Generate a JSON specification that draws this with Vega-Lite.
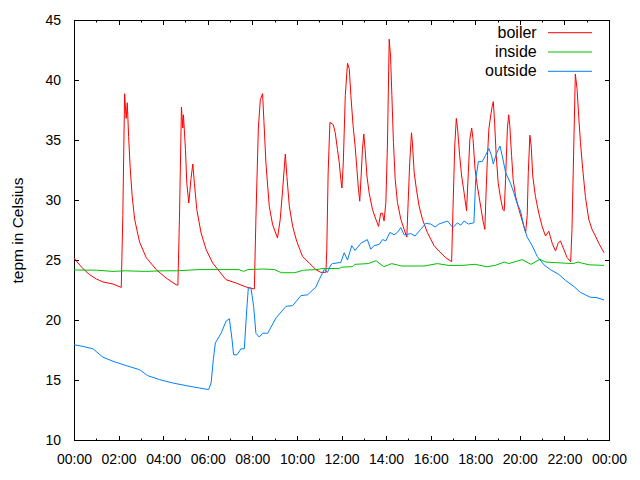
{
  "$schema": "https://vega.github.io/schema/vega-lite/v6.json",
  "width": 535,
  "height": 420,
  "autosize": {"type": "none"},
  "padding": {"left": 74, "top": 20, "right": 31, "bottom": 40},
  "config": {
    "font": "Liberation Sans",
    "view": {"stroke": "black", "strokeWidth": 1},
    "axis": {"domainColor": "black", "tickColor": "black", "labelColor": "black", "titleColor": "black", "labelFontSize": 14, "titleFontSize": 15.5, "titleFontWeight": "normal", "grid": false, "labelFont": "Liberation Sans", "titleFont": "Liberation Sans"},
    "legend": {"labelFont": "Liberation Sans", "labelColor": "black", "labelFontSize": 16}
  },
  "data": {"values": [
    {"t":0,"v":25.17,"s":"boiler"},{"t":0.18,"v":24.75,"s":"boiler"},{"t":0.4,"v":24.28,"s":"boiler"},{"t":0.7,"v":23.78,"s":"boiler"},{"t":1.0,"v":23.42,"s":"boiler"},{"t":1.3,"v":23.17,"s":"boiler"},{"t":1.75,"v":23.0,"s":"boiler"},{"t":2.12,"v":22.72,"s":"boiler"},{"t":2.19,"v":28.7,"s":"boiler"},{"t":2.27,"v":38.86,"s":"boiler"},{"t":2.34,"v":36.8,"s":"boiler"},{"t":2.39,"v":38.1,"s":"boiler"},{"t":2.45,"v":35.3,"s":"boiler"},{"t":2.52,"v":32.7,"s":"boiler"},{"t":2.61,"v":30.3,"s":"boiler"},{"t":2.72,"v":28.4,"s":"boiler"},{"t":2.94,"v":26.5,"s":"boiler"},{"t":3.24,"v":25.2,"s":"boiler"},{"t":3.69,"v":24.2,"s":"boiler"},{"t":4.13,"v":23.5,"s":"boiler"},{"t":4.58,"v":22.94,"s":"boiler"},{"t":4.66,"v":22.9,"s":"boiler"},{"t":4.73,"v":28.4,"s":"boiler"},{"t":4.82,"v":37.75,"s":"boiler"},{"t":4.88,"v":36.0,"s":"boiler"},{"t":4.91,"v":37.1,"s":"boiler"},{"t":5.0,"v":34.2,"s":"boiler"},{"t":5.06,"v":31.4,"s":"boiler"},{"t":5.15,"v":29.75,"s":"boiler"},{"t":5.25,"v":31.8,"s":"boiler"},{"t":5.33,"v":33.0,"s":"boiler"},{"t":5.4,"v":31.4,"s":"boiler"},{"t":5.51,"v":29.2,"s":"boiler"},{"t":5.7,"v":27.25,"s":"boiler"},{"t":5.93,"v":25.86,"s":"boiler"},{"t":6.22,"v":24.75,"s":"boiler"},{"t":6.52,"v":24.05,"s":"boiler"},{"t":6.82,"v":23.36,"s":"boiler"},{"t":7.27,"v":23.08,"s":"boiler"},{"t":7.72,"v":22.75,"s":"boiler"},{"t":8.09,"v":22.58,"s":"boiler"},{"t":8.16,"v":28.4,"s":"boiler"},{"t":8.27,"v":36.0,"s":"boiler"},{"t":8.36,"v":38.36,"s":"boiler"},{"t":8.46,"v":38.86,"s":"boiler"},{"t":8.52,"v":36.56,"s":"boiler"},{"t":8.61,"v":33.08,"s":"boiler"},{"t":8.76,"v":29.47,"s":"boiler"},{"t":8.91,"v":27.94,"s":"boiler"},{"t":9.13,"v":26.83,"s":"boiler"},{"t":9.25,"v":28.36,"s":"boiler"},{"t":9.36,"v":30.86,"s":"boiler"},{"t":9.48,"v":33.83,"s":"boiler"},{"t":9.55,"v":31.97,"s":"boiler"},{"t":9.66,"v":29.47,"s":"boiler"},{"t":9.81,"v":27.8,"s":"boiler"},{"t":9.99,"v":26.56,"s":"boiler"},{"t":10.25,"v":25.3,"s":"boiler"},{"t":10.55,"v":24.75,"s":"boiler"},{"t":10.85,"v":24.2,"s":"boiler"},{"t":11.07,"v":23.97,"s":"boiler"},{"t":11.3,"v":23.97,"s":"boiler"},{"t":11.34,"v":25.86,"s":"boiler"},{"t":11.4,"v":32.25,"s":"boiler"},{"t":11.48,"v":36.47,"s":"boiler"},{"t":11.63,"v":36.28,"s":"boiler"},{"t":11.72,"v":35.6,"s":"boiler"},{"t":11.82,"v":34.2,"s":"boiler"},{"t":11.9,"v":33.1,"s":"boiler"},{"t":11.97,"v":31.7,"s":"boiler"},{"t":12.02,"v":31.0,"s":"boiler"},{"t":12.08,"v":33.1,"s":"boiler"},{"t":12.17,"v":38.7,"s":"boiler"},{"t":12.27,"v":41.4,"s":"boiler"},{"t":12.35,"v":40.9,"s":"boiler"},{"t":12.42,"v":38.7,"s":"boiler"},{"t":12.52,"v":36.2,"s":"boiler"},{"t":12.61,"v":34.5,"s":"boiler"},{"t":12.69,"v":32.6,"s":"boiler"},{"t":12.76,"v":30.9,"s":"boiler"},{"t":12.82,"v":29.9,"s":"boiler"},{"t":12.88,"v":32.0,"s":"boiler"},{"t":12.94,"v":34.2,"s":"boiler"},{"t":13.0,"v":35.5,"s":"boiler"},{"t":13.06,"v":34.2,"s":"boiler"},{"t":13.14,"v":32.0,"s":"boiler"},{"t":13.24,"v":30.6,"s":"boiler"},{"t":13.39,"v":29.2,"s":"boiler"},{"t":13.54,"v":28.4,"s":"boiler"},{"t":13.66,"v":27.8,"s":"boiler"},{"t":13.76,"v":28.9,"s":"boiler"},{"t":13.84,"v":28.9,"s":"boiler"},{"t":13.91,"v":28.25,"s":"boiler"},{"t":13.99,"v":29.8,"s":"boiler"},{"t":14.06,"v":34.5,"s":"boiler"},{"t":14.14,"v":43.4,"s":"boiler"},{"t":14.2,"v":42.0,"s":"boiler"},{"t":14.26,"v":38.7,"s":"boiler"},{"t":14.33,"v":34.8,"s":"boiler"},{"t":14.41,"v":31.7,"s":"boiler"},{"t":14.51,"v":29.8,"s":"boiler"},{"t":14.66,"v":28.4,"s":"boiler"},{"t":14.81,"v":27.55,"s":"boiler"},{"t":14.93,"v":26.9,"s":"boiler"},{"t":14.99,"v":29.8,"s":"boiler"},{"t":15.06,"v":33.1,"s":"boiler"},{"t":15.14,"v":35.6,"s":"boiler"},{"t":15.18,"v":34.8,"s":"boiler"},{"t":15.26,"v":32.3,"s":"boiler"},{"t":15.36,"v":30.9,"s":"boiler"},{"t":15.48,"v":29.5,"s":"boiler"},{"t":15.63,"v":28.4,"s":"boiler"},{"t":15.85,"v":27.3,"s":"boiler"},{"t":16.15,"v":26.2,"s":"boiler"},{"t":16.37,"v":25.75,"s":"boiler"},{"t":16.67,"v":25.2,"s":"boiler"},{"t":16.94,"v":24.86,"s":"boiler"},{"t":17.0,"v":29.2,"s":"boiler"},{"t":17.08,"v":34.5,"s":"boiler"},{"t":17.15,"v":36.8,"s":"boiler"},{"t":17.21,"v":35.9,"s":"boiler"},{"t":17.3,"v":33.7,"s":"boiler"},{"t":17.39,"v":32.0,"s":"boiler"},{"t":17.5,"v":30.6,"s":"boiler"},{"t":17.61,"v":29.1,"s":"boiler"},{"t":17.69,"v":32.3,"s":"boiler"},{"t":17.76,"v":35.1,"s":"boiler"},{"t":17.84,"v":36.0,"s":"boiler"},{"t":17.9,"v":35.1,"s":"boiler"},{"t":17.99,"v":32.6,"s":"boiler"},{"t":18.09,"v":31.2,"s":"boiler"},{"t":18.24,"v":29.5,"s":"boiler"},{"t":18.35,"v":28.25,"s":"boiler"},{"t":18.43,"v":27.55,"s":"boiler"},{"t":18.49,"v":30.9,"s":"boiler"},{"t":18.55,"v":33.7,"s":"boiler"},{"t":18.61,"v":35.9,"s":"boiler"},{"t":18.69,"v":37.0,"s":"boiler"},{"t":18.76,"v":37.8,"s":"boiler"},{"t":18.81,"v":38.2,"s":"boiler"},{"t":18.87,"v":36.4,"s":"boiler"},{"t":18.94,"v":33.7,"s":"boiler"},{"t":19.03,"v":31.4,"s":"boiler"},{"t":19.14,"v":30.1,"s":"boiler"},{"t":19.24,"v":29.2,"s":"boiler"},{"t":19.3,"v":29.1,"s":"boiler"},{"t":19.36,"v":31.7,"s":"boiler"},{"t":19.44,"v":35.9,"s":"boiler"},{"t":19.5,"v":37.1,"s":"boiler"},{"t":19.55,"v":36.2,"s":"boiler"},{"t":19.63,"v":33.7,"s":"boiler"},{"t":19.7,"v":31.7,"s":"boiler"},{"t":19.81,"v":30.3,"s":"boiler"},{"t":19.96,"v":29.2,"s":"boiler"},{"t":20.11,"v":28.25,"s":"boiler"},{"t":20.26,"v":27.3,"s":"boiler"},{"t":20.33,"v":28.7,"s":"boiler"},{"t":20.38,"v":32.3,"s":"boiler"},{"t":20.45,"v":35.4,"s":"boiler"},{"t":20.51,"v":34.5,"s":"boiler"},{"t":20.58,"v":32.0,"s":"boiler"},{"t":20.7,"v":30.3,"s":"boiler"},{"t":20.85,"v":28.9,"s":"boiler"},{"t":21.0,"v":27.8,"s":"boiler"},{"t":21.15,"v":27.0,"s":"boiler"},{"t":21.3,"v":27.4,"s":"boiler"},{"t":21.45,"v":26.4,"s":"boiler"},{"t":21.6,"v":25.75,"s":"boiler"},{"t":21.72,"v":26.4,"s":"boiler"},{"t":21.82,"v":26.6,"s":"boiler"},{"t":21.97,"v":25.9,"s":"boiler"},{"t":22.12,"v":25.2,"s":"boiler"},{"t":22.28,"v":24.86,"s":"boiler"},{"t":22.34,"v":27.55,"s":"boiler"},{"t":22.42,"v":34.5,"s":"boiler"},{"t":22.49,"v":40.5,"s":"boiler"},{"t":22.57,"v":39.2,"s":"boiler"},{"t":22.64,"v":37.0,"s":"boiler"},{"t":22.72,"v":34.8,"s":"boiler"},{"t":22.82,"v":32.6,"s":"boiler"},{"t":22.94,"v":30.3,"s":"boiler"},{"t":23.09,"v":28.4,"s":"boiler"},{"t":23.24,"v":27.55,"s":"boiler"},{"t":23.39,"v":27.0,"s":"boiler"},{"t":23.54,"v":26.4,"s":"boiler"},{"t":23.69,"v":25.9,"s":"boiler"},{"t":23.78,"v":25.6,"s":"boiler"},
    {"t":0,"v":24.17,"s":"inside"},{"t":1.0,"v":24.15,"s":"inside"},{"t":1.75,"v":24.05,"s":"inside"},{"t":2.3,"v":24.1,"s":"inside"},{"t":3.2,"v":24.05,"s":"inside"},{"t":4.0,"v":24.1,"s":"inside"},{"t":4.6,"v":24.1,"s":"inside"},{"t":5.6,"v":24.2,"s":"inside"},{"t":7.4,"v":24.2,"s":"inside"},{"t":7.6,"v":24.05,"s":"inside"},{"t":7.8,"v":24.2,"s":"inside"},{"t":8.5,"v":24.25,"s":"inside"},{"t":9.0,"v":24.2,"s":"inside"},{"t":9.3,"v":23.94,"s":"inside"},{"t":9.9,"v":23.94,"s":"inside"},{"t":10.3,"v":24.15,"s":"inside"},{"t":10.9,"v":24.2,"s":"inside"},{"t":11.1,"v":24.28,"s":"inside"},{"t":11.9,"v":24.3,"s":"inside"},{"t":12.0,"v":24.4,"s":"inside"},{"t":12.5,"v":24.45,"s":"inside"},{"t":12.6,"v":24.64,"s":"inside"},{"t":13.2,"v":24.7,"s":"inside"},{"t":13.55,"v":24.94,"s":"inside"},{"t":13.9,"v":24.44,"s":"inside"},{"t":14.25,"v":24.7,"s":"inside"},{"t":14.7,"v":24.5,"s":"inside"},{"t":15.7,"v":24.5,"s":"inside"},{"t":16.3,"v":24.7,"s":"inside"},{"t":16.8,"v":24.55,"s":"inside"},{"t":17.4,"v":24.55,"s":"inside"},{"t":18.0,"v":24.64,"s":"inside"},{"t":18.5,"v":24.44,"s":"inside"},{"t":18.9,"v":24.55,"s":"inside"},{"t":19.3,"v":24.83,"s":"inside"},{"t":19.5,"v":24.7,"s":"inside"},{"t":20.1,"v":25.03,"s":"inside"},{"t":20.5,"v":24.64,"s":"inside"},{"t":20.9,"v":25.06,"s":"inside"},{"t":21.15,"v":24.83,"s":"inside"},{"t":21.6,"v":24.78,"s":"inside"},{"t":22.4,"v":24.7,"s":"inside"},{"t":22.6,"v":24.83,"s":"inside"},{"t":23.1,"v":24.6,"s":"inside"},{"t":23.78,"v":24.55,"s":"inside"},
    {"t":0,"v":17.94,"s":"outside"},{"t":0.4,"v":17.8,"s":"outside"},{"t":0.85,"v":17.6,"s":"outside"},{"t":1.3,"v":16.9,"s":"outside"},{"t":1.75,"v":16.56,"s":"outside"},{"t":2.34,"v":16.2,"s":"outside"},{"t":2.94,"v":15.86,"s":"outside"},{"t":3.31,"v":15.36,"s":"outside"},{"t":3.84,"v":15.03,"s":"outside"},{"t":4.43,"v":14.75,"s":"outside"},{"t":5.03,"v":14.53,"s":"outside"},{"t":5.63,"v":14.33,"s":"outside"},{"t":6.04,"v":14.2,"s":"outside"},{"t":6.15,"v":14.75,"s":"outside"},{"t":6.25,"v":16.7,"s":"outside"},{"t":6.34,"v":18.08,"s":"outside"},{"t":6.6,"v":18.9,"s":"outside"},{"t":6.82,"v":19.9,"s":"outside"},{"t":6.97,"v":20.1,"s":"outside"},{"t":7.09,"v":18.36,"s":"outside"},{"t":7.16,"v":17.1,"s":"outside"},{"t":7.31,"v":17.1,"s":"outside"},{"t":7.49,"v":17.6,"s":"outside"},{"t":7.64,"v":17.6,"s":"outside"},{"t":7.75,"v":20.86,"s":"outside"},{"t":7.82,"v":22.67,"s":"outside"},{"t":7.94,"v":22.67,"s":"outside"},{"t":8.06,"v":21.1,"s":"outside"},{"t":8.16,"v":18.9,"s":"outside"},{"t":8.31,"v":18.58,"s":"outside"},{"t":8.46,"v":18.9,"s":"outside"},{"t":8.69,"v":18.9,"s":"outside"},{"t":9.06,"v":20.17,"s":"outside"},{"t":9.51,"v":21.14,"s":"outside"},{"t":9.81,"v":21.2,"s":"outside"},{"t":10.18,"v":22.03,"s":"outside"},{"t":10.48,"v":22.1,"s":"outside"},{"t":10.85,"v":22.75,"s":"outside"},{"t":11.0,"v":23.36,"s":"outside"},{"t":11.22,"v":24.2,"s":"outside"},{"t":11.37,"v":23.97,"s":"outside"},{"t":11.52,"v":24.6,"s":"outside"},{"t":11.6,"v":24.7,"s":"outside"},{"t":11.97,"v":24.8,"s":"outside"},{"t":12.12,"v":25.6,"s":"outside"},{"t":12.27,"v":25.0,"s":"outside"},{"t":12.46,"v":26.2,"s":"outside"},{"t":12.61,"v":25.8,"s":"outside"},{"t":12.87,"v":26.4,"s":"outside"},{"t":13.16,"v":26.7,"s":"outside"},{"t":13.31,"v":25.9,"s":"outside"},{"t":13.46,"v":26.2,"s":"outside"},{"t":13.69,"v":26.3,"s":"outside"},{"t":13.84,"v":26.7,"s":"outside"},{"t":13.99,"v":26.6,"s":"outside"},{"t":14.17,"v":27.3,"s":"outside"},{"t":14.36,"v":27.1,"s":"outside"},{"t":14.51,"v":27.3,"s":"outside"},{"t":14.66,"v":27.7,"s":"outside"},{"t":14.81,"v":27.1,"s":"outside"},{"t":15.11,"v":27.2,"s":"outside"},{"t":15.3,"v":27.0,"s":"outside"},{"t":15.55,"v":27.55,"s":"outside"},{"t":15.78,"v":28.05,"s":"outside"},{"t":16.0,"v":28.0,"s":"outside"},{"t":16.2,"v":27.75,"s":"outside"},{"t":16.37,"v":28.0,"s":"outside"},{"t":16.75,"v":28.25,"s":"outside"},{"t":17.0,"v":27.7,"s":"outside"},{"t":17.2,"v":28.1,"s":"outside"},{"t":17.35,"v":27.9,"s":"outside"},{"t":17.5,"v":28.25,"s":"outside"},{"t":17.69,"v":28.0,"s":"outside"},{"t":17.94,"v":28.1,"s":"outside"},{"t":18.02,"v":31.7,"s":"outside"},{"t":18.14,"v":33.2,"s":"outside"},{"t":18.31,"v":33.2,"s":"outside"},{"t":18.46,"v":33.7,"s":"outside"},{"t":18.61,"v":34.3,"s":"outside"},{"t":18.73,"v":33.7,"s":"outside"},{"t":18.81,"v":33.0,"s":"outside"},{"t":18.96,"v":33.9,"s":"outside"},{"t":19.11,"v":34.5,"s":"outside"},{"t":19.21,"v":33.7,"s":"outside"},{"t":19.36,"v":32.3,"s":"outside"},{"t":19.58,"v":31.4,"s":"outside"},{"t":19.73,"v":30.6,"s":"outside"},{"t":19.88,"v":29.7,"s":"outside"},{"t":20.03,"v":29.1,"s":"outside"},{"t":20.18,"v":27.8,"s":"outside"},{"t":20.33,"v":26.9,"s":"outside"},{"t":20.55,"v":26.2,"s":"outside"},{"t":20.78,"v":25.3,"s":"outside"},{"t":21.08,"v":24.6,"s":"outside"},{"t":21.37,"v":24.2,"s":"outside"},{"t":21.75,"v":23.8,"s":"outside"},{"t":22.05,"v":23.3,"s":"outside"},{"t":22.42,"v":22.8,"s":"outside"},{"t":22.72,"v":22.3,"s":"outside"},{"t":22.94,"v":22.1,"s":"outside"},{"t":23.16,"v":21.9,"s":"outside"},{"t":23.46,"v":21.86,"s":"outside"},{"t":23.78,"v":21.67,"s":"outside"}
  ]},
  "layer": [
    {
      "mark": {"type": "line", "strokeWidth": 1, "interpolate": "linear"},
      "encoding": {
        "x": {"field": "t", "type": "quantitative", "scale": {"domain": [0, 24], "nice": false, "zero": false},
          "axis": {"orient": "bottom", "title": null, "values": [0,1,2,3,4,5,6,7,8,9,10,11,12,13,14,15,16,17,18,19,20,21,22,23,24],
            "labelExpr": "datum.value % 2 ? '' : ((datum.value % 24) < 10 ? '0' : '') + (datum.value % 24) + ':00'",
            "tickSize": {"condition": {"test": "datum.value % 2 === 0", "value": -4.5}, "value": -2},
            "labelPadding": 17, "labelOverlap": false, "labelFlush": false}},
        "y": {"field": "v", "type": "quantitative", "scale": {"domain": [10, 45], "nice": false, "zero": false},
          "axis": {"orient": "left", "title": "tepm in Celsius", "values": [10,15,20,25,30,35,40,45], "tickSize": -4.5, "labelPadding": 18, "titlePadding": 19}},
        "color": {"field": "s", "type": "nominal", "scale": {"domain": ["boiler", "inside", "outside"], "range": ["#ff0000", "#00c000", "#0080ff"]},
          "legend": {"title": null, "orient": "none", "legendX": 488, "legendY": 4.7, "symbolType": "M-4,0H4", "symbolSize": 121, "symbolStrokeWidth": 1, "labelAlign": "right", "labelOffset": -41.3, "rowPadding": 3.3, "padding": 0}}
      }
    },
    {
      "mark": {"type": "point", "opacity": 0},
      "encoding": {
        "x": {"field": "t", "type": "quantitative",
          "axis": {"orient": "top", "title": null, "labels": false, "values": [0,1,2,3,4,5,6,7,8,9,10,11,12,13,14,15,16,17,18,19,20,21,22,23,24],
            "tickSize": {"condition": {"test": "datum.value % 2 === 0", "value": -4.5}, "value": -2}}},
        "y": {"field": "v", "type": "quantitative",
          "axis": {"orient": "right", "title": null, "labels": false, "values": [10,15,20,25,30,35,40,45], "tickSize": -4.5}}
      }
    }
  ],
  "resolve": {"axis": {"x": "independent", "y": "independent"}}
}
